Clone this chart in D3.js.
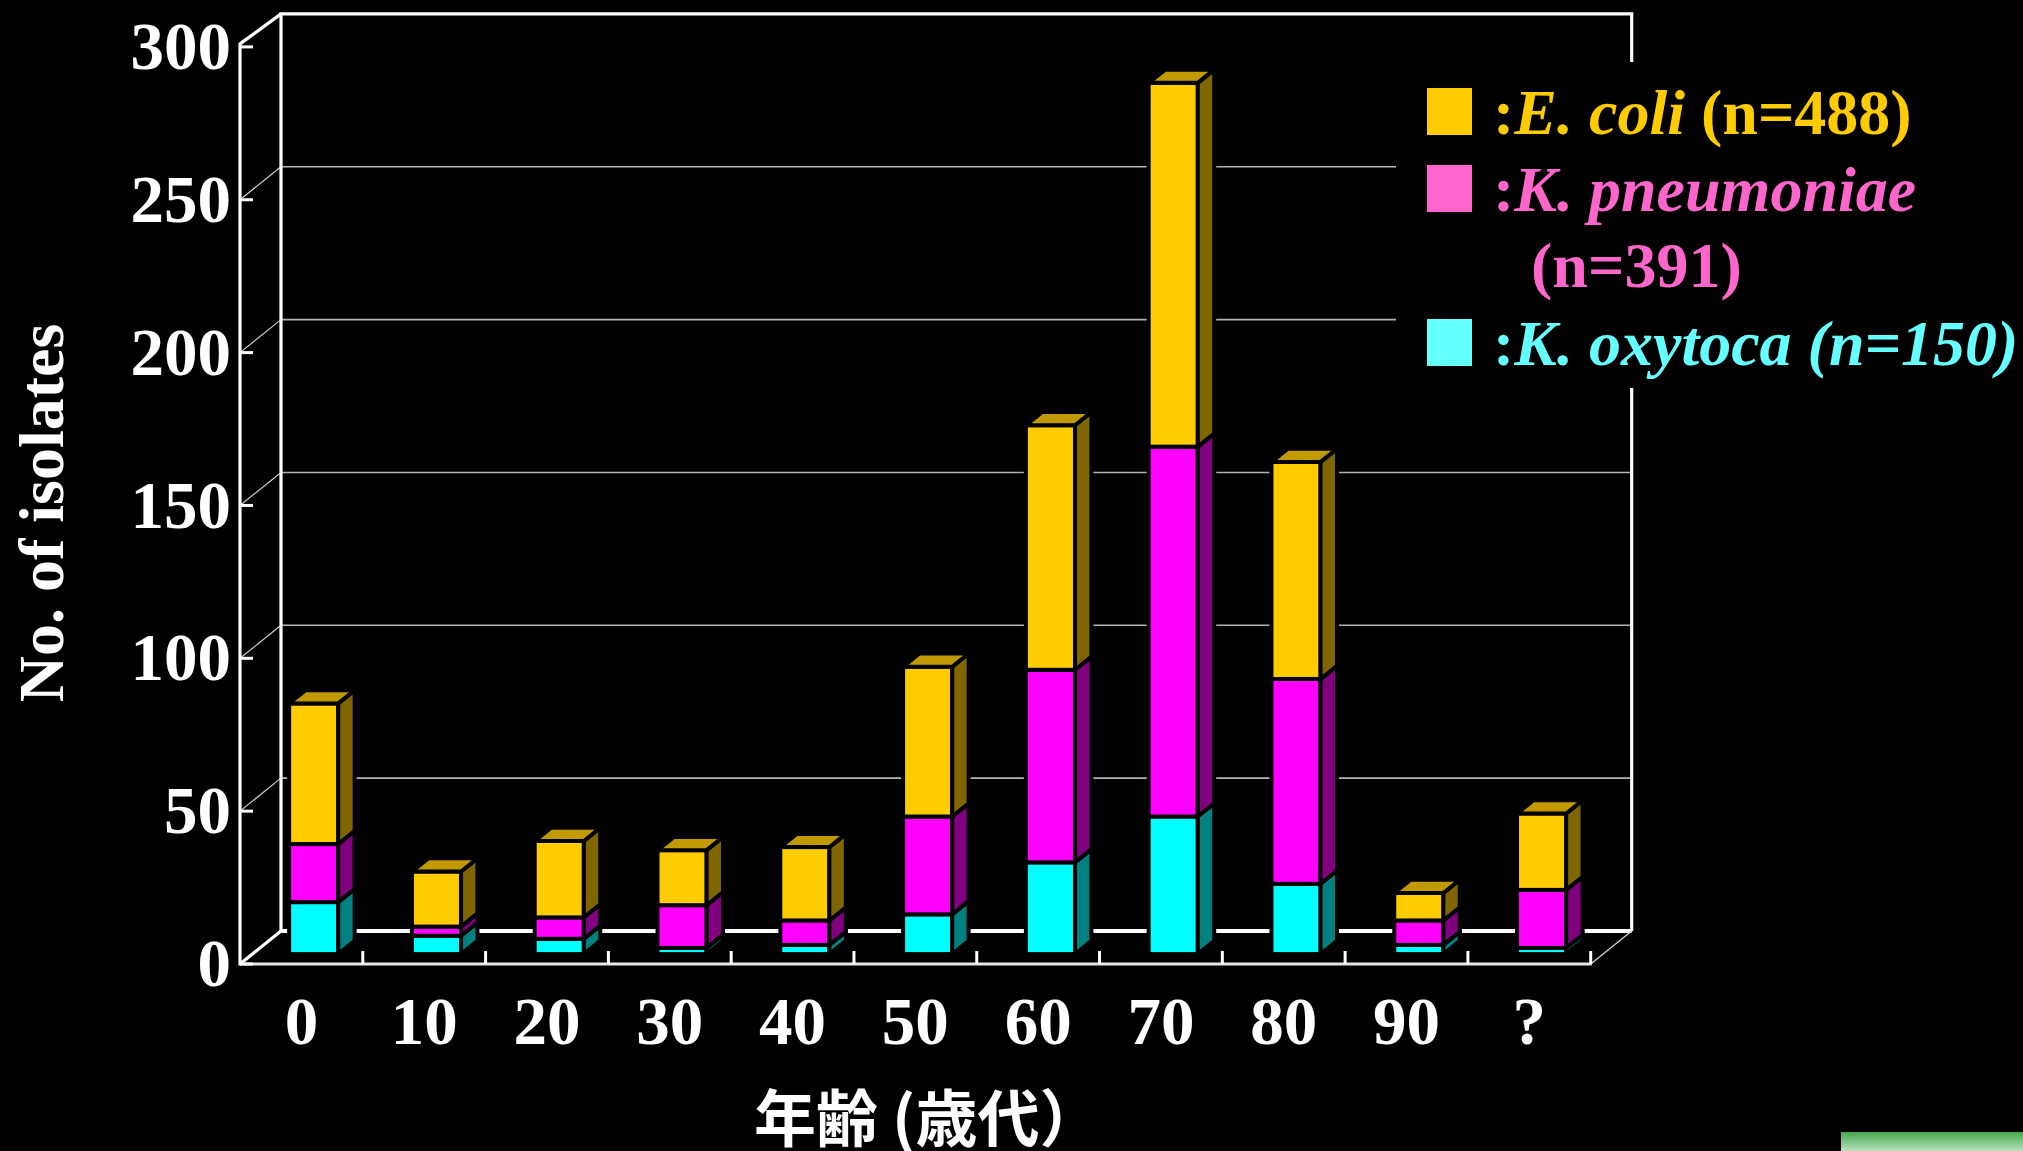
<!DOCTYPE html>
<html>
<head>
<meta charset="utf-8">
<script src="https://cdn.jsdelivr.net/npm/d3@7"></script>
<style>
  html, body { margin: 0; padding: 0; background: #000; }
  svg { display: block; }
</style>
</head>
<body>
<svg id="chart" width="2023" height="1151"></svg>
<script>
// Age groups (decades) and isolate counts per organism
const categories = ["0", "10", "20", "30", "40", "50", "60", "70", "80", "90", "?"];
const oxytoca    = [17, 6, 5, 2, 3, 13, 30, 45, 23, 3, 2];
const pneumoniae = [19, 3, 7, 14, 8, 32, 63, 121, 67, 8, 19];
const coli       = [46, 18, 25, 18, 24, 49, 80, 119, 71, 9, 25];
const yTicks = [0, 50, 100, 150, 200, 250, 300];

const seriesKeys = ["oxytoca", "pneumoniae", "coli"];
const faceColor = { oxytoca: "#00FFFF", pneumoniae: "#FF00FF", coli: "#FFCC00" };
const sideColor = { oxytoca: "#008080", pneumoniae: "#800080", coli: "#806600" };
const capColor  = { oxytoca: "#00C0C0", pneumoniae: "#C000C0", coli: "#C09A00" };

const rows = categories.map((c, i) => ({
  cat: c, oxytoca: oxytoca[i], pneumoniae: pneumoniae[i], coli: coli[i]
}));

const svg = d3.select("#chart");
svg.append("rect").attr("width", 2023).attr("height", 1151).attr("fill", "#000");

// Front plane of the box; the back wall is offset by (DX, DY)
const x = d3.scaleBand().domain(categories).range([240, 1590.7]).padding(0);
const y = d3.scaleLinear().domain([0, 300]).range([964, 46.9]);
const DX = 41, DY = -33;
const xLeft = 240, xRight = 1590.7;

const serif = "'Liberation Serif', 'Times New Roman', serif";

// ---- box: gridlines on back wall and left wall ----
const grid = svg.append("g");
yTicks.filter(v => v > 0 && v < 300).forEach(v => {
  grid.append("line")
    .attr("x1", xLeft + DX).attr("x2", xRight + DX)
    .attr("y1", y(v) + DY).attr("y2", y(v) + DY)
    .attr("stroke", "#b4b4b4").attr("stroke-width", 1.6);
  grid.append("line")
    .attr("x1", xLeft).attr("x2", xLeft + DX)
    .attr("y1", y(v)).attr("y2", y(v) + DY)
    .attr("stroke", "#cfcfcf").attr("stroke-width", 1.2);
});

const walls = svg.append("g").attr("fill", "none").attr("stroke", "#fff");
// back wall outline
walls.append("path")
  .attr("d", `M${xLeft + DX},${y(0) + DY} L${xLeft + DX},${y(300) + DY} L${xRight + DX},${y(300) + DY} L${xRight + DX},${y(0) + DY}`)
  .attr("stroke-width", 3.2);
// back floor line
walls.append("line")
  .attr("x1", xLeft + DX).attr("x2", xRight + DX)
  .attr("y1", y(0) + DY).attr("y2", y(0) + DY)
  .attr("stroke-width", 4);
// left wall top and bottom diagonals
walls.append("line")
  .attr("x1", xLeft).attr("y1", y(300) - 3).attr("x2", xLeft + DX).attr("y2", y(300) + DY)
  .attr("stroke-width", 3.2);
walls.append("line")
  .attr("x1", xLeft).attr("y1", y(0)).attr("x2", xLeft + DX).attr("y2", y(0) + DY)
  .attr("stroke-width", 3.2);
// right floor diagonal
walls.append("line")
  .attr("x1", xRight).attr("y1", y(0)).attr("x2", xRight + DX).attr("y2", y(0) + DY)
  .attr("stroke", "#cfcfcf").attr("stroke-width", 1.4);

// ---- stacked 3D bars ----
const stacked = d3.stack().keys(seriesKeys)(rows);
const bw = x.bandwidth();
const barW = bw * 0.4;
const d0 = 0.3, d1 = 0.7;           // bar occupies this depth fraction of the box
const fx = d0 * DX, fy = d0 * DY;   // shift of the bar's front face
const sx = (d1 - d0) * DX, sy = (d1 - d0) * DY;  // bar depth

const bars = svg.append("g")
  .attr("stroke", "#000").attr("stroke-width", 4).attr("stroke-linejoin", "miter");

rows.forEach((r, i) => {
  const left = x(r.cat) + (bw - barW) / 2 + fx;
  const right = left + barW;
  stacked.forEach((layer, li) => {
    const seg = layer[i];
    const key = layer.key;
    const yb = y(seg[0]) + fy, yt = y(seg[1]) + fy;
    if (seg[1] - seg[0] <= 0) return;
    const g = bars.append("g");
    g.append("rect")
      .attr("x", left).attr("y", yt)
      .attr("width", barW).attr("height", yb - yt)
      .attr("fill", faceColor[key]);
    g.append("path")
      .attr("d", `M${right},${yb} L${right + sx},${yb + sy} L${right + sx},${yt + sy} L${right},${yt} Z`)
      .attr("fill", sideColor[key]);
    if (li === stacked.length - 1) {
      g.append("path")
        .attr("d", `M${left},${yt} L${right},${yt} L${right + sx},${yt + sy} L${left + sx},${yt + sy} Z`)
        .attr("fill", capColor[key]);
    }
  });
});

// ---- front axes ----
const axes = svg.append("g").attr("stroke", "#fff");
axes.append("line")
  .attr("x1", xLeft).attr("x2", xLeft).attr("y1", y(300) - 4).attr("y2", y(0) + 1.5)
  .attr("stroke-width", 3.2);
axes.append("line")
  .attr("x1", xLeft).attr("x2", xRight + 1).attr("y1", y(0)).attr("y2", y(0))
  .attr("stroke", "#e6e6e6").attr("stroke-width", 3);
yTicks.forEach(v => {
  axes.append("line")
    .attr("x1", xLeft).attr("x2", xLeft + 13).attr("y1", y(v)).attr("y2", y(v))
    .attr("stroke-width", 3);
});
categories.forEach(c => {
  const xe = x(c) + bw;
  axes.append("line")
    .attr("x1", xe).attr("x2", xe).attr("y1", y(0)).attr("y2", y(0) - 13)
    .attr("stroke-width", 3);
});

// tick labels
svg.append("g").selectAll("text").data(yTicks).join("text")
  .attr("x", 231).attr("y", d => y(d)).attr("dy", "0.33em")
  .attr("text-anchor", "end")
  .attr("font-family", serif).attr("font-weight", "bold").attr("font-size", 67)
  .attr("fill", "#fff")
  .text(d => d);

svg.append("g").selectAll("text").data(categories).join("text")
  .attr("x", d => x(d) + bw / 2).attr("y", 1044)
  .attr("text-anchor", "middle")
  .attr("font-family", serif).attr("font-weight", "bold").attr("font-size", 67)
  .attr("fill", "#fff")
  .text(d => d);

// axis titles
svg.append("text")
  .attr("transform", "translate(63,513) rotate(-90)")
  .attr("text-anchor", "middle")
  .attr("font-family", serif).attr("font-weight", "bold").attr("font-size", 64)
  .attr("fill", "#fff")
  .text("No. of isolates");

svg.append("text")
  .attr("x", 754).attr("y", 1142)
  .attr("font-family", "'Noto Sans CJK JP', sans-serif").attr("font-weight", "bold").attr("font-size", 62)
  .attr("fill", "#fff")
  .text("年齢 (歳代）");

// ---- legend ----
const legend = svg.append("g");
legend.append("rect")
  .attr("x", 1396).attr("y", 62).attr("width", 627).attr("height", 326)
  .attr("fill", "#000");

const legendRows = [
  { y: 134, swatch: "#FFCC00", parts: [[":", false], ["E. coli", true], [" (n=488)", false]] },
  { y: 211, swatch: "#FF66CC", parts: [[":", false], ["K. pneumoniae", true]] },
  { y: 287, swatch: null, color: "#FF66CC", indent: 1531, parts: [["(n=391)", false]] },
  { y: 365, swatch: "#66FFFF", parts: [[":", false], ["K. oxytoca (n=150)", true]] }
];
legendRows.forEach(row => {
  const color = row.swatch || row.color;
  if (row.swatch) {
    legend.append("rect")
      .attr("x", 1427).attr("y", row.y - 46).attr("width", 45).attr("height", 47)
      .attr("fill", row.swatch);
  }
  const t = legend.append("text")
    .attr("x", row.indent || 1493).attr("y", row.y)
    .attr("font-family", serif).attr("font-weight", "bold").attr("font-size", 64)
    .attr("fill", color)
    .attr("xml:space", "preserve");
  row.parts.forEach(([s, it]) => {
    t.append("tspan").attr("font-style", it ? "italic" : "normal").text(s);
  });
});

// green strip at the lower right corner
const defs = svg.append("defs");
const grad = defs.append("linearGradient").attr("id", "greenStrip")
  .attr("x1", 0).attr("y1", 0).attr("x2", 0).attr("y2", 1);
grad.append("stop").attr("offset", "0%").attr("stop-color", "#45a84f");
grad.append("stop").attr("offset", "100%").attr("stop-color", "#b9e2bd");
svg.append("rect")
  .attr("x", 1841).attr("y", 1132).attr("width", 182).attr("height", 19)
  .attr("fill", "url(#greenStrip)");
</script>
</body>
</html>
